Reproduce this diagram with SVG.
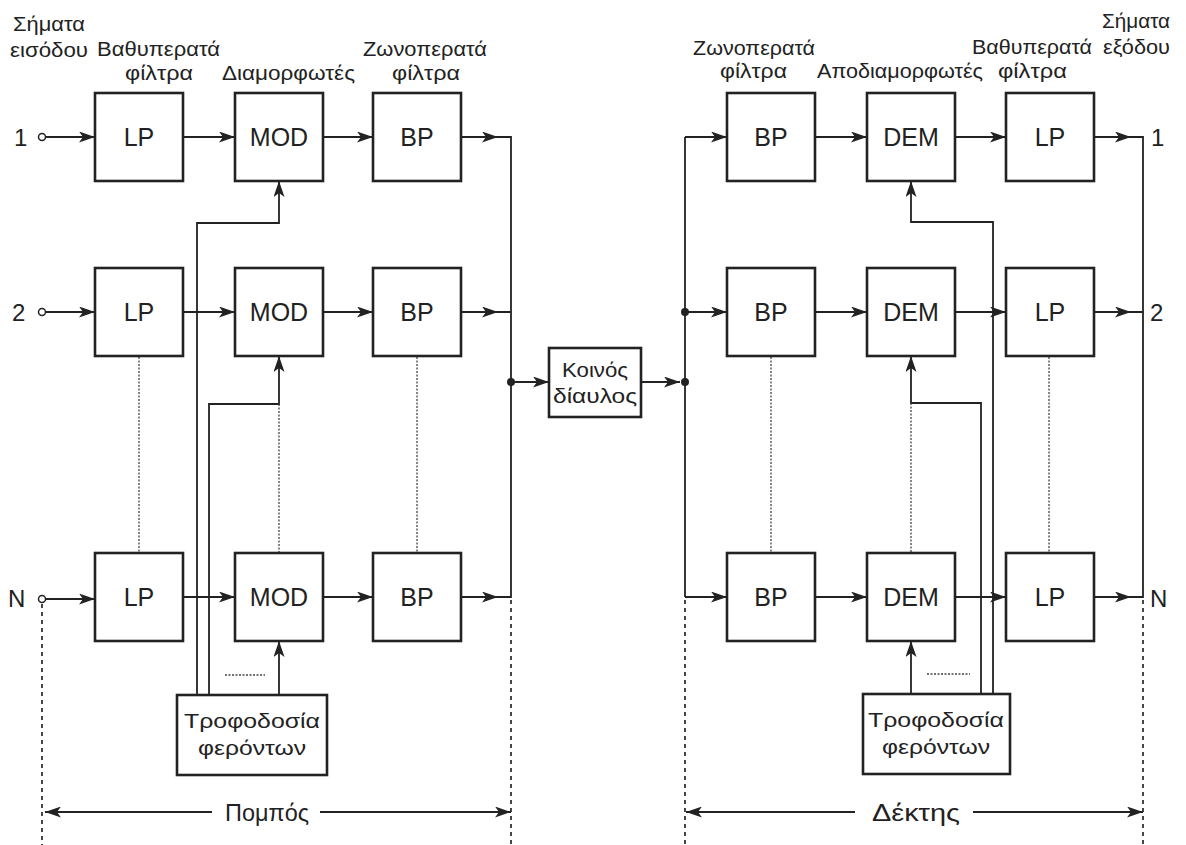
<svg xmlns="http://www.w3.org/2000/svg" width="1186" height="845" viewBox="0 0 1186 845">
<style>
text{font-family:"Liberation Sans",Arial,sans-serif;fill:#222}
.hdr{font-size:20.5px}
.box{fill:#fff;stroke:#222;stroke-width:2.6}
.lbl{font-size:25px;text-anchor:middle}
.sm{font-size:21px;text-anchor:middle}
.num{font-size:24px}
.ln{fill:none;stroke:#222;stroke-width:1.8}
.ar{fill:none;stroke:#222;stroke-width:1.8;marker-end:url(#ah)}
.dot{fill:none;stroke:#444;stroke-width:1.3;stroke-dasharray:2 1.5}
.ext{fill:none;stroke:#333;stroke-width:1.8;stroke-dasharray:4 4}
</style>
<defs>
<marker id="ah" markerUnits="userSpaceOnUse" markerWidth="17" markerHeight="11" refX="16" refY="5.5" orient="auto">
<path d="M0,0 L16,5.5 L0,11 L4,5.5 z" fill="#222"/>
</marker>
</defs>
<rect width="1186" height="845" fill="#fff"/>

<g id="headers">
<text class="hdr" x="13" y="31" textLength="72" lengthAdjust="spacingAndGlyphs">Σήματα</text>
<text class="hdr" x="10" y="57" textLength="78" lengthAdjust="spacingAndGlyphs">εισόδου</text>
<text class="hdr" x="97" y="56" textLength="123" lengthAdjust="spacingAndGlyphs">Βαθυπερατά</text>
<text class="hdr" x="125" y="80" textLength="68" lengthAdjust="spacingAndGlyphs">φίλτρα</text>
<text class="hdr" x="222" y="80" textLength="133" lengthAdjust="spacingAndGlyphs">Διαμορφωτές</text>
<text class="hdr" x="363" y="56" textLength="124" lengthAdjust="spacingAndGlyphs">Ζωνοπερατά</text>
<text class="hdr" x="392" y="80" textLength="68" lengthAdjust="spacingAndGlyphs">φίλτρα</text>
<text class="hdr" x="693" y="55" textLength="122" lengthAdjust="spacingAndGlyphs">Ζωνοπερατά</text>
<text class="hdr" x="720" y="78" textLength="67" lengthAdjust="spacingAndGlyphs">φίλτρα</text>
<text class="hdr" x="817" y="78" textLength="166" lengthAdjust="spacingAndGlyphs">Αποδιαμορφωτές</text>
<text class="hdr" x="972" y="54" textLength="120" lengthAdjust="spacingAndGlyphs">Βαθυπερατά</text>
<text class="hdr" x="998" y="78" textLength="69" lengthAdjust="spacingAndGlyphs">φίλτρα</text>
<text class="hdr" x="1102" y="28" textLength="68" lengthAdjust="spacingAndGlyphs">Σήματα</text>
<text class="hdr" x="1103" y="54" textLength="67" lengthAdjust="spacingAndGlyphs">εξόδου</text>
</g>

<g id="terminals">
<text class="num" x="14" y="146">1</text>
<text class="num" x="12" y="321">2</text>
<text class="num" x="8" y="607">N</text>
<circle cx="42" cy="137" r="3.5" fill="#fff" stroke="#222" stroke-width="1.5"/>
<circle cx="42" cy="312" r="3.5" fill="#fff" stroke="#222" stroke-width="1.5"/>
<circle cx="42" cy="599" r="3.5" fill="#fff" stroke="#222" stroke-width="1.5"/>
<text class="num" x="1151" y="146">1</text>
<text class="num" x="1150" y="321">2</text>
<text class="num" x="1150" y="607">N</text>
</g>

<g id="connectors">
<path class="ar" d="M46,137 H95"/>
<path class="ar" d="M46,312 H95"/>
<path class="ar" d="M46,599 H95"/>
<path class="ar" d="M183,137 H235"/>
<path class="ar" d="M183,312 H235"/>
<path class="ar" d="M183,597 H235"/>
<path class="ar" d="M323,137 H373"/>
<path class="ar" d="M323,312 H373"/>
<path class="ar" d="M323,597 H373"/>
<path class="ar" d="M461,137 H498"/>
<path class="ar" d="M461,312 H498"/>
<path class="ar" d="M461,597 H498"/>
<path class="ln" d="M497,137 H511 V597 H497 M497,312 H511"/>
<path class="ar" d="M511,382 H549"/>
<path class="ar" d="M641,382 H680"/>
<circle cx="511" cy="382" r="4" fill="#222"/>
<circle cx="685" cy="382" r="4" fill="#222"/>
<circle cx="685" cy="312" r="4" fill="#222"/>
<path class="ln" d="M685,137 V597"/>
<path class="ar" d="M685,137 H727"/>
<path class="ar" d="M685,312 H727"/>
<path class="ar" d="M685,597 H727"/>
<path class="ar" d="M815,137 H867"/>
<path class="ar" d="M815,312 H867"/>
<path class="ar" d="M815,597 H867"/>
<path class="ar" d="M955,137 H1006"/>
<path class="ar" d="M955,312 H1006"/>
<path class="ar" d="M955,597 H1006"/>
<path class="ar" d="M1094,137 H1131"/>
<path class="ar" d="M1094,312 H1131"/>
<path class="ar" d="M1094,597 H1131"/>
<path class="ln" d="M1130,137 H1143 V597 H1130 M1130,312 H1143"/>
<path class="ar" d="M197,695 V223 H279 V181"/>
<path class="ar" d="M209,695 V404 H279 V356"/>
<path class="ar" d="M279,695 V641"/>
<path class="ar" d="M993,694 V222 H911 V181"/>
<path class="ar" d="M981,694 V403 H911 V356"/>
<path class="ar" d="M911,694 V641"/>
<path class="dot" d="M139,357 V553 M279,404 V553 M417,357 V553"/>
<path class="dot" d="M771,357 V553 M911,403 V553 M1049,357 V553"/>
<path class="dot" d="M225,675 H265 M927,674 H970"/>
<path class="ext" d="M42,604 V845 M511,600 V845 M685,600 V845 M1143,600 V845"/>
<path class="ar" d="M212,812 H45"/>
<path class="ar" d="M320,812 H511"/>
<path class="ar" d="M855,812 H686"/>
<path class="ar" d="M973,812 H1143"/>
</g>

<g id="lp1"><rect class="box" x="95" y="93" width="88" height="88"/><text class="lbl" x="139" y="146">LP</text></g>
<g id="mod1"><rect class="box" x="235" y="93" width="88" height="88"/><text class="lbl" x="279" y="146">MOD</text></g>
<g id="bp1"><rect class="box" x="373" y="93" width="88" height="88"/><text class="lbl" x="417" y="146">BP</text></g>
<g id="lp2"><rect class="box" x="95" y="268" width="88" height="88"/><text class="lbl" x="139" y="321">LP</text></g>
<g id="mod2"><rect class="box" x="235" y="268" width="88" height="88"/><text class="lbl" x="279" y="321">MOD</text></g>
<g id="bp2"><rect class="box" x="373" y="268" width="88" height="88"/><text class="lbl" x="417" y="321">BP</text></g>
<g id="lpN"><rect class="box" x="95" y="553" width="88" height="88"/><text class="lbl" x="139" y="606">LP</text></g>
<g id="modN"><rect class="box" x="235" y="553" width="88" height="88"/><text class="lbl" x="279" y="606">MOD</text></g>
<g id="bpN"><rect class="box" x="373" y="553" width="88" height="88"/><text class="lbl" x="417" y="606">BP</text></g>

<g id="channel"><rect class="box" x="549" y="348" width="92" height="69"/>
<text x="595" y="377" font-size="20.5" text-anchor="middle" textLength="66" lengthAdjust="spacingAndGlyphs">Κοινός</text>
<text x="595" y="403" font-size="20.5" text-anchor="middle" textLength="84" lengthAdjust="spacingAndGlyphs">δίαυλος</text></g>

<g id="rbp1"><rect class="box" x="727" y="93" width="88" height="88"/><text class="lbl" x="771" y="146">BP</text></g>
<g id="dem1"><rect class="box" x="867" y="93" width="88" height="88"/><text class="lbl" x="911" y="146">DEM</text></g>
<g id="rlp1"><rect class="box" x="1006" y="93" width="88" height="88"/><text class="lbl" x="1050" y="146">LP</text></g>
<g id="rbp2"><rect class="box" x="727" y="268" width="88" height="88"/><text class="lbl" x="771" y="321">BP</text></g>
<g id="dem2"><rect class="box" x="867" y="268" width="88" height="88"/><text class="lbl" x="911" y="321">DEM</text></g>
<g id="rlp2"><rect class="box" x="1006" y="268" width="88" height="88"/><text class="lbl" x="1050" y="321">LP</text></g>
<g id="rbpN"><rect class="box" x="727" y="553" width="88" height="88"/><text class="lbl" x="771" y="606">BP</text></g>
<g id="demN"><rect class="box" x="867" y="553" width="88" height="88"/><text class="lbl" x="911" y="606">DEM</text></g>
<g id="rlpN"><rect class="box" x="1006" y="553" width="88" height="88"/><text class="lbl" x="1050" y="606">LP</text></g>

<g id="carrier-tx"><rect class="box" x="177" y="695" width="150" height="80"/>
<text class="sm" x="252" y="728" textLength="136" lengthAdjust="spacingAndGlyphs">Τροφοδοσία</text>
<text class="sm" x="252" y="755" textLength="108" lengthAdjust="spacingAndGlyphs">φερόντων</text></g>
<g id="carrier-rx"><rect class="box" x="863" y="694" width="147" height="80"/>
<text class="sm" x="936" y="727" textLength="136" lengthAdjust="spacingAndGlyphs">Τροφοδοσία</text>
<text class="sm" x="936" y="754" textLength="108" lengthAdjust="spacingAndGlyphs">φερόντων</text></g>

<g id="labels">
<text x="267" y="821" font-size="24" text-anchor="middle" textLength="84" lengthAdjust="spacingAndGlyphs">Πομπός</text>
<text x="916" y="821" font-size="24" text-anchor="middle" textLength="88" lengthAdjust="spacingAndGlyphs">Δέκτης</text>
</g>
</svg>
